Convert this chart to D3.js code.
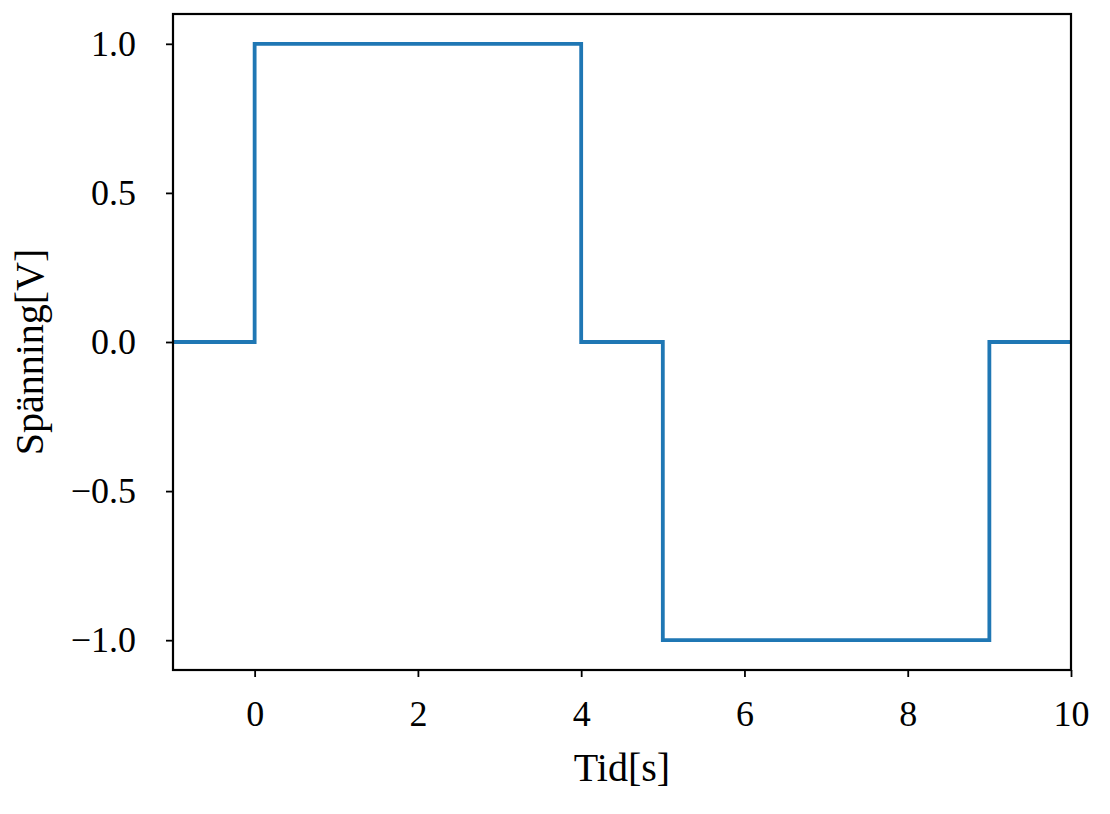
<!DOCTYPE html>
<html>
<head>
<meta charset="utf-8">
<script src="https://cdn.jsdelivr.net/npm/d3@7"></script>
<style>
  body { margin: 0; background: #fff; }
  svg text { font-family: "Liberation Serif", "Times New Roman", Times, serif; fill: #000; }
</style>
</head>
<body>
<div id="chart"></div>
<script>
// signal: step changes at these times
const times = [-1, 0, 4, 5, 9, 10];
const volts = [0, 1, 0, -1, 0, 0];
const xTicks = [0, 2, 4, 6, 8, 10];
const yTicks = [-1.0, -0.5, 0.0, 0.5, 1.0];

const width = 1110, height = 814;
const margin = { top: 14, right: 39, bottom: 144, left: 173 };

const svg = d3.select("#chart").append("svg")
    .attr("width", width)
    .attr("height", height);

const x = d3.scaleLinear()
    .domain([-1, 10])
    .range([margin.left, width - margin.right]);

const y = d3.scaleLinear()
    .domain([-1.1, 1.1])
    .range([height - margin.bottom, margin.top]);

const data = times.map((t, i) => ({ t: t, v: volts[i] }));

const line = d3.line()
    .x(d => x(d.t))
    .y(d => y(d.v))
    .curve(d3.curveStepAfter);

svg.append("path")
    .datum(data)
    .attr("fill", "none")
    .attr("stroke", "#1f77b4")
    .attr("stroke-width", 3.8)
    .attr("stroke-linejoin", "miter")
    .attr("d", line);

// axes
const fmtY = d => d3.format(".1f")(d).replace("-", "\u2212");

const gx = svg.append("g")
    .attr("transform", `translate(0,${height - margin.bottom})`)
    .call(d3.axisBottom(x).tickValues(xTicks).tickSize(7).tickPadding(23).tickFormat(d3.format("d")));

const gy = svg.append("g")
    .attr("transform", `translate(${margin.left},0)`)
    .call(d3.axisLeft(y).tickValues(yTicks).tickSize(7).tickPadding(30).tickFormat(fmtY));

[gx, gy].forEach(g => {
    g.select(".domain").remove();
    g.selectAll("line").attr("stroke", "#000").attr("stroke-width", 1.8);
    g.selectAll("text").style("font-size", "36px").attr("fill", "#000");
});

// frame
svg.append("rect")
    .attr("x", margin.left)
    .attr("y", margin.top)
    .attr("width", width - margin.left - margin.right)
    .attr("height", height - margin.top - margin.bottom)
    .attr("fill", "none")
    .attr("stroke", "#000")
    .attr("stroke-width", 2.2);

// labels
svg.append("text")
    .attr("x", (margin.left + width - margin.right) / 2)
    .attr("y", 781)
    .attr("text-anchor", "middle")
    .style("font-size", "40px")
    .text("Tid[s]");

svg.append("text")
    .attr("transform", "rotate(-90)")
    .attr("x", -(margin.top + height - margin.bottom) / 2 - 10)
    .attr("y", 43)
    .attr("text-anchor", "middle")
    .style("font-size", "40px")
    .text("Spänning[V]");
</script>
</body>
</html>
